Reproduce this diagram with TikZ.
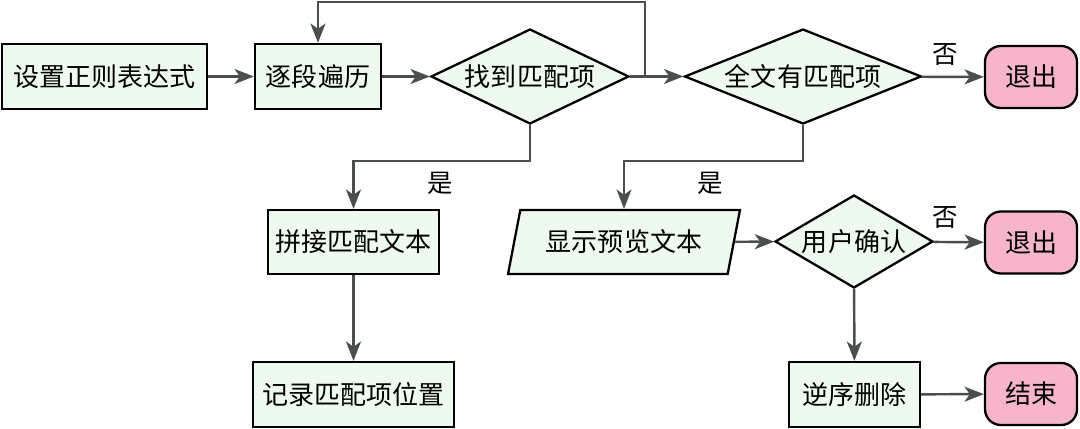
\documentclass[tikz,border=0pt]{standalone}
\usepackage{fontspec}
\newfontfamily\cjk{Noto Sans CJK SC}
\usetikzlibrary{shapes.geometric, arrows.meta}
\definecolor{boxgreen}{HTML}{EEF9F0}
\definecolor{exitpink}{HTML}{F7B5CB}
\definecolor{linegray}{HTML}{4A4E4E}
\tikzset{
  proc/.style={draw=black, line width=1.3pt, fill=boxgreen, minimum height=1.3cm, inner sep=0pt, font=\cjk\fontsize{14.8}{16}\selectfont},
  judge/.style={proc, shape=diamond, minimum height=1.9cm},
  io/.style={proc, trapezium, trapezium left angle=63, trapezium right angle=117, trapezium stretches body, minimum height=1.28cm},
  term/.style={proc, fill=exitpink, rounded corners=9pt, minimum width=1.84cm, minimum height=1.24cm},
  conn/.style={draw=linegray, line width=1.4pt, -{Stealth[length=11pt, width=8.5pt, inset=3pt]}},
  yesno/.style={inner sep=0pt, font=\cjk\fontsize{14.5}{16}\selectfont},
}

\begin{document}
\begin{tikzpicture}[x=0.02cm, y=-0.02cm]
    \useasboundingbox (0,0) rectangle (1080,429);

    % top row
    \node[proc, minimum width=4.1cm]  (setre)    at (104.5,76.5) {设置正则表达式};
    \node[proc, minimum width=2.52cm] (scan)     at (318,76.5)   {逐段遍历};
    \node[judge, aspect=2.2, minimum width=3.96cm] (found)    at (530,76.5) {找到匹配项};
    \node[judge, aspect=2.3, minimum width=4.74cm] (anymatch) at (803,76.5) {全文有匹配项};
    \node[term] (quitA) at (1031,77) {退出};

    % middle row
    \node[proc, minimum width=3.42cm, minimum height=1.28cm] (join) at (353.5,242) {拼接匹配文本};
    \node[io, minimum width=4.64cm] (preview) at (624,242) {显示预览文本};
    \node[judge, aspect=1.8, minimum width=3.16cm, minimum height=1.86cm] (confirm) at (854,241.5) {用户确认};
    \node[term] (quitB) at (1031,242.5) {退出};

    % bottom row
    \node[proc, minimum width=4.02cm] (record)  at (353.5,394.5) {记录匹配项位置};
    \node[proc, minimum width=2.62cm] (reverse) at (854.5,394.5) {逆序删除};
    \node[term] (finish) at (1031,394) {结束};

    % branch labels
    \node[yesno] (yesA) at (440,183) {是};
    \node[yesno] (yesB) at (710,183) {是};
    \node[yesno] (noA)  at (945,55)  {否};
    \node[yesno] (noB)  at (945,218) {否};

    \draw[conn] (setre) -- (scan);
    \draw[conn] (scan) -- (found);
    \draw[conn] (found) -- (anymatch);
    \coordinate (loop) at (645,76.5);
    \draw[conn] (loop) -- ++(0,-74.5) -| (scan.north);
    \draw[conn] (anymatch) -- (quitA);
    \draw[conn] (found.south) -- ++(0,36) -| (join.north);
    \draw[conn] (anymatch.south) -- ++(0,36) -| (preview.north);
    \draw[conn] (join) -- (record);
    \draw[conn] (preview) -- (confirm);
    \draw[conn] (confirm) -- (quitB);
    \draw[conn] (confirm) -- (reverse);
    \draw[conn] (reverse) -- (finish);
\end{tikzpicture}
\end{document}
